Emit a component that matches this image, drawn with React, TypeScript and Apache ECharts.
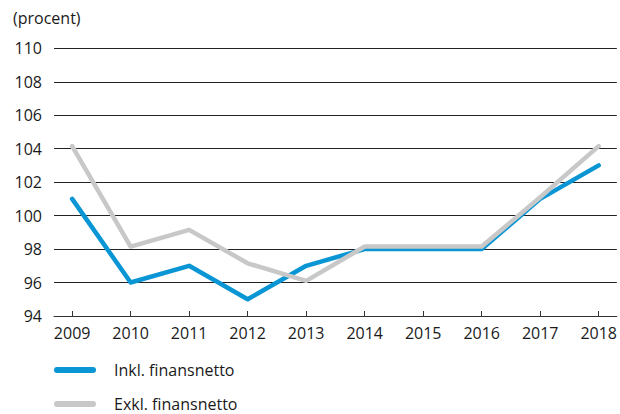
import React, { useEffect, useRef } from "react";
import * as echarts from "echarts";

const years = [2009, 2010, 2011, 2012, 2013, 2014, 2015, 2016, 2017, 2018];
const inklValues = [101, 96, 97, 95, 97, 98, 98, 98, 101, 103];
const exklValues = [104.15, 98.15, 99.15, 97.15, 96.1, 98.15, 98.15, 98.15, 101.1, 104.15];
const seriesNames = ["Inkl. finansnetto", "Exkl. finansnetto"];
const unitLabel = "(procent)";

const FONT = "'Open Sans', sans-serif";

export default function App() {
  const ref = useRef<HTMLDivElement>(null);
  useEffect(() => {
    if (!ref.current) return;
    const chart = echarts.init(ref.current, undefined, { renderer: "svg" });
    const legendIcon = "path://M3,0 L39,0 A3,3 0 0 1 39,6 L3,6 A3,3 0 0 1 3,0 Z";
    chart.setOption({
      animation: false,
      backgroundColor: "#ffffff",
      textStyle: { fontFamily: FONT },
      grid: { left: 54, right: 0, top: 48.3, bottom: 98, containLabel: false },
      graphic: [
        {
          type: "text",
          left: 13,
          top: 10,
          style: { text: unitLabel, fontSize: 16, fontFamily: FONT, fill: "#1a1a1a" },
        },
      ],
      legend: {
        orient: "vertical",
        left: 54,
        top: 362,
        bottom: 0,
        padding: 0,
        itemWidth: 42,
        itemHeight: 6,
        itemGap: 18,
        icon: legendIcon,
        textStyle: { fontSize: 16, fontFamily: FONT, color: "#1a1a1a", lineHeight: 16, padding: [0, 0, 0, 13] },
        data: seriesNames,
      },
      xAxis: {
        type: "value",
        min: 2008.69,
        max: 2018.31,
        axisLine: { show: true, lineStyle: { color: "#333", width: 1 } },
        axisTick: {
          show: true,
          inside: true,
          length: 5,
          customValues: years,
          lineStyle: { color: "#333", width: 1 },
        },
        axisLabel: {
          customValues: years,
          fontSize: 16,
          color: "#1a1a1a",
          margin: 9,
          formatter: (v: number) => String(Math.round(v)),
        },
        splitLine: { show: false },
      },
      yAxis: {
        type: "value",
        min: 94,
        max: 110,
        interval: 2,
        axisLine: { show: false },
        axisTick: { show: false },
        axisLabel: { fontSize: 16, color: "#1a1a1a", margin: 12 },
        splitLine: { show: true, lineStyle: { color: "#222", width: 1 } },
      },
      series: [
        {
          name: seriesNames[0],
          type: "line",
          data: years.map((y, i) => [y, inklValues[i]]),
          showSymbol: false,
          symbol: "none",
          color: "#0a96d4",
          lineStyle: { color: "#0a96d4", width: 4.5, cap: "round", join: "round" },
        },
        {
          name: seriesNames[1],
          type: "line",
          data: years.map((y, i) => [y, exklValues[i]]),
          showSymbol: false,
          symbol: "none",
          color: "#c8c8c8",
          lineStyle: { color: "#c8c8c8", width: 4.5, cap: "round", join: "round" },
        },
      ],
    });
    return () => chart.dispose();
  }, []);
  return (
    <div
      ref={ref}
      style={{ position: "fixed", left: 0, top: 0, width: 620, height: 414, background: "#fff" }}
    />
  );
}
